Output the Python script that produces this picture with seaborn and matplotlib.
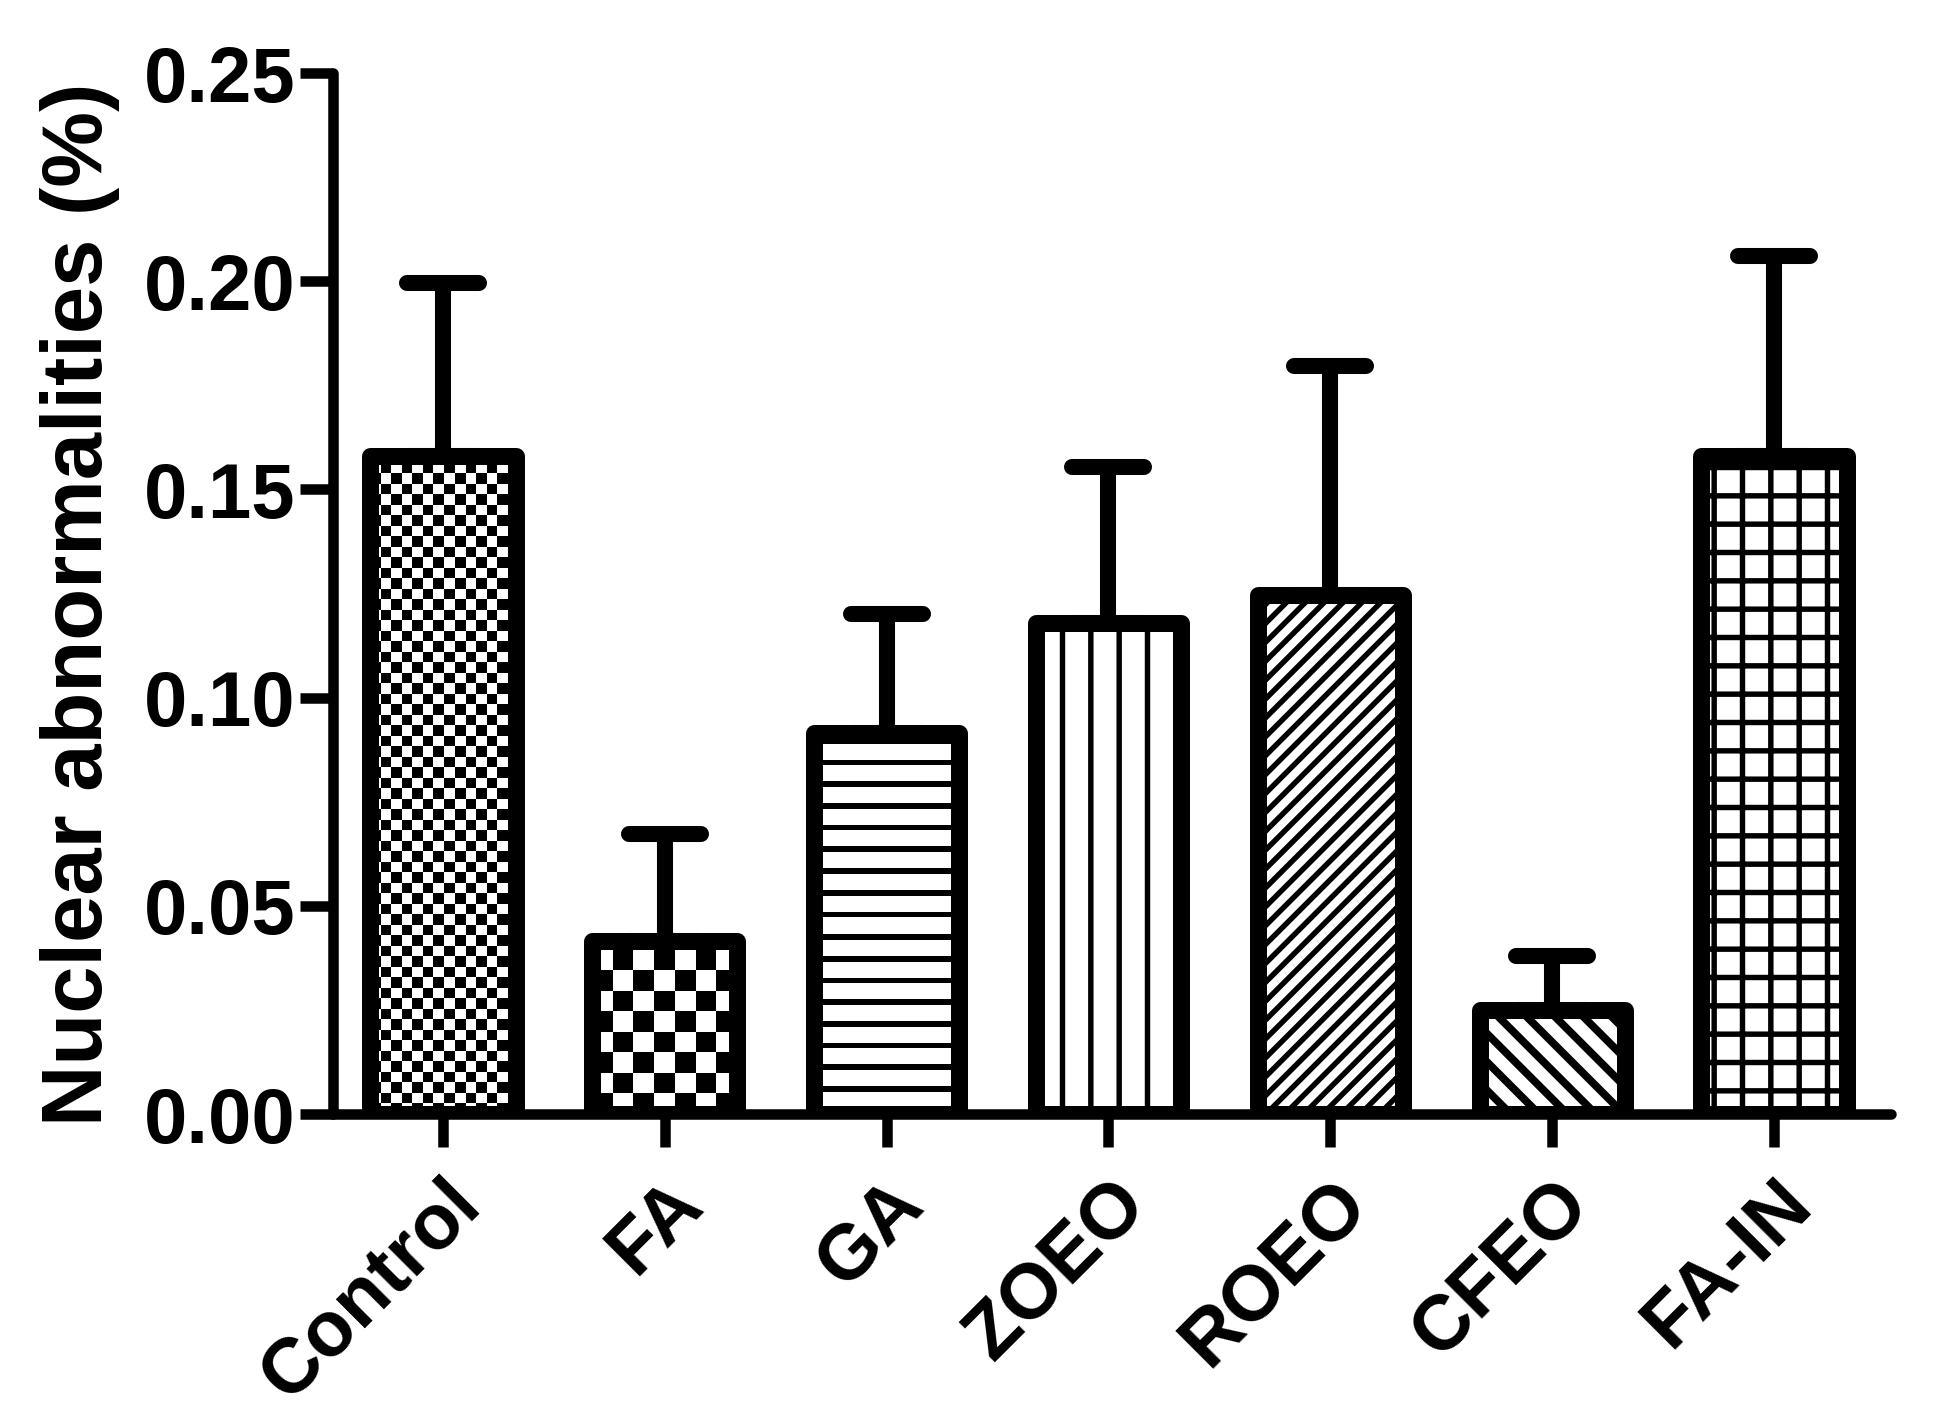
import numpy as np
import matplotlib
matplotlib.use("Agg")
import matplotlib.pyplot as plt
from matplotlib.markers import MarkerStyle
from matplotlib.ticker import FormatStrFormatter
import seaborn as sns

groups = ["Control", "FA", "GA", "ZOEO", "ROEO", "CFEO", "FA-IN"]
means = [0.158, 0.0415, 0.0915, 0.118, 0.1246, 0.025, 0.158]
sems = [0.0415, 0.0257, 0.0286, 0.0374, 0.055, 0.0129, 0.048]
y_ticks = [0.00, 0.05, 0.10, 0.15, 0.20, 0.25]
# fill per bar: ("checker", cell px), ("stripes", period px, line px) or a hatch string
fills = [("checker", 10.5), ("checker", 20.5), ("stripes", 21.7, 5.7),
         ("hatch", "|"), ("hatch", "///"), ("hatch", "\\\\"), ("hatch", "+")]

sns.set_theme(style="ticks")
plt.rcParams["font.family"] = ["Liberation Sans", "DejaVu Sans"]
plt.rcParams["font.weight"] = "bold"
for key in ["text.color", "axes.labelcolor", "xtick.color", "ytick.color", "axes.edgecolor"]:
    plt.rcParams[key] = "black"
plt.rcParams["hatch.linewidth"] = 2.3
plt.rcParams["hatch.color"] = "black"

DPI = 170
fig = plt.figure(figsize=(1938 / DPI, 1427 / DPI), dpi=DPI)
ax = fig.add_axes([0.1718, 0.2193, 0.8039, 0.7295])

sns.barplot(x=groups, y=means, ax=ax, color="white", width=0.654,
            edgecolor="black", linewidth=7.2, saturation=1)
XLIM = (-0.496, 6.527)
ax.set_xlim(*XLIM)
ax.set_ylim(0, 0.25)


def add_pattern(ax, patch, cells_fn):
    # pixel-sized pattern image under the bar, clipped to the bar outline
    x0, w, h = patch.get_x(), patch.get_width(), patch.get_height()
    (px0, py0), (px1, py1) = ax.transData.transform([(x0, 0), (x0 + w, h)])
    nx = int(np.ceil(px1 - px0))
    ny = int(np.ceil(py1 - py0))
    iy, ix = np.indices((ny, nx))
    cells = cells_fn(ix, iy).astype(float)
    x_end = x0 + nx * w / (px1 - px0)
    y_end = ny * h / (py1 - py0)
    im = ax.imshow(cells, cmap="gray_r", vmin=0, vmax=1, origin="lower",
                   extent=(x0, x_end, 0, y_end), aspect="auto",
                   interpolation="nearest", zorder=patch.get_zorder() - 0.1)
    im.set_clip_path(patch)
    patch.set_facecolor("none")


for patch, spec in zip(ax.patches, fills):
    patch.set_joinstyle("round")
    kind = spec[0]
    if kind == "checker":
        sq = spec[1]
        add_pattern(ax, patch, lambda ix, iy, sq=sq: ((ix // sq + iy // sq) % 2) == 0)
    elif kind == "stripes":
        period, thick = spec[1], spec[2]
        add_pattern(ax, patch, lambda ix, iy, p=period, t=thick: (iy % p) < t)
    else:
        patch.set_hatch(spec[1])
        if spec[1].startswith("\\") and hasattr(patch, "set_hatch_linewidth"):
            patch.set_hatch_linewidth(3.3)

ax.set_xlim(*XLIM)
ax.set_ylim(0, 0.25)

# upper error bars only
eb = ax.errorbar(range(len(groups)), means, yerr=[np.zeros(len(sems)), sems],
                 fmt="none", ecolor="black", elinewidth=6.8, capsize=15.3,
                 capthick=6.8, zorder=5)
for cap in eb[1]:
    cap.set_marker(MarkerStyle("_", capstyle="round"))

sns.despine(ax=ax)
for side in ["left", "bottom"]:
    ax.spines[side].set_linewidth(4.45)
    ax.spines[side].set_color("black")
    ax.spines[side].set_capstyle("round")

ax.set_yticks(y_ticks)
ax.yaxis.set_major_formatter(FormatStrFormatter("%.2f"))
ax.tick_params(axis="y", length=14, width=4.45, pad=2, labelsize=33, color="black")
ax.tick_params(axis="x", length=14, width=4.45, pad=8, labelsize=33, color="black")
for lab in ax.get_xticklabels():
    lab.set_rotation(45)
    lab.set_ha("right")
    lab.set_va("top")
    lab.set_rotation_mode("anchor")
    lab.set_fontweight("bold")
for lab in ax.get_yticklabels():
    lab.set_fontweight("bold")

ax.set_xlabel("")
ax.set_ylabel("Nuclear abnormalities (%)", fontsize=36, fontweight="bold")
ax.yaxis.set_label_coords(-0.137, 0.49)

fig.savefig("out.png", dpi=DPI, facecolor="white")
